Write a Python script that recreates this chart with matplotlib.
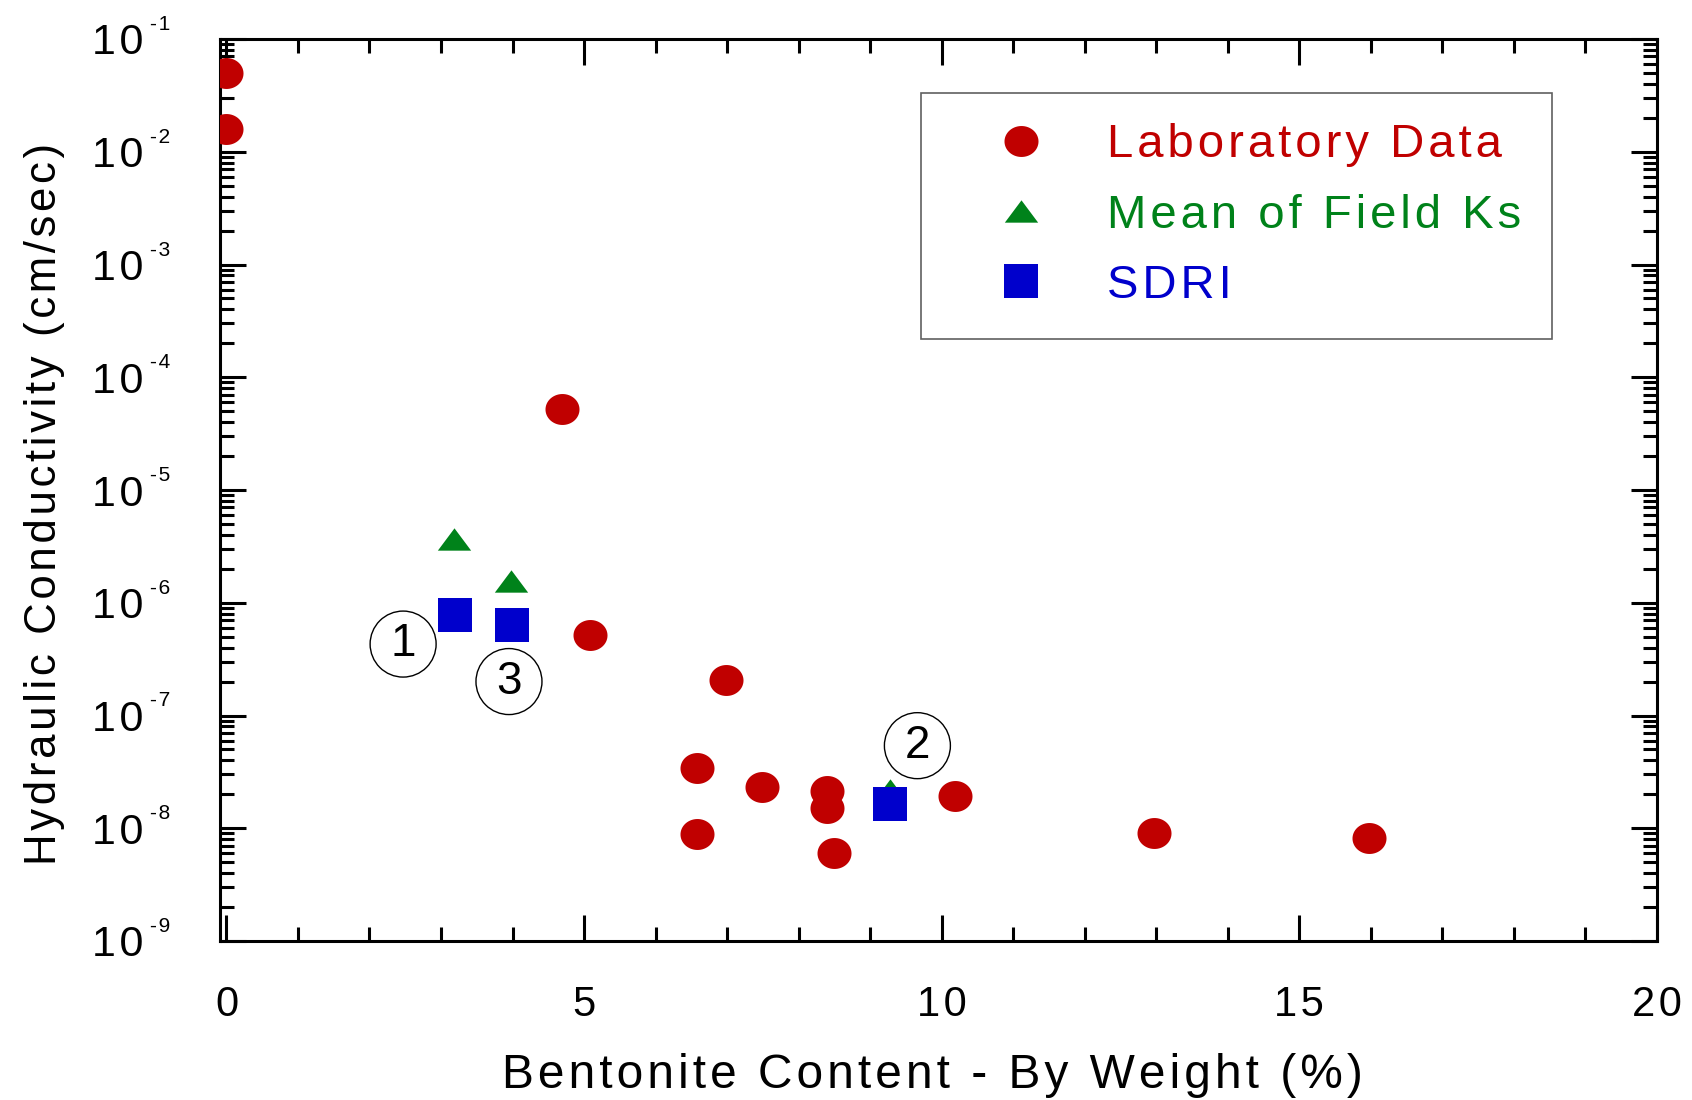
import numpy as np
import matplotlib
matplotlib.use('Agg')
import matplotlib.pyplot as plt
from matplotlib.ticker import MultipleLocator, LogLocator, NullFormatter, FixedLocator, FixedFormatter

# laboratory permeability results
lab_x = [0.0, 0.0, 4.69, 5.08, 6.98, 6.58, 6.58, 7.49, 8.40, 8.40, 8.49, 10.19, 12.97, 15.98]
lab_k = [5.0e-2, 1.58e-2, 5.2e-5, 5.2e-7, 2.07e-7, 3.44e-8, 8.9e-9, 2.34e-8,
         2.14e-8, 1.52e-8, 6.0e-9, 1.93e-8, 9.1e-9, 8.2e-9]
# field tests
field_x = [3.18, 3.98, 9.28]
field_k = [3.66e-6, 1.56e-6, 2.2e-8]
sdri_x = [3.20, 3.99, 9.28]
sdri_k = [7.8e-7, 6.3e-7, 1.63e-8]
# site numbers
site_labels = ['1', '3', '2']
site_x = [2.47, 3.95, 9.66]
site_k = [4.3e-7, 2.0e-7, 5.4e-8]

y_exponents = list(range(-9, 0))
x_major = [0, 5, 10, 15, 20]

RED = '#c00000'
GREEN = '#00821a'
BLUE = '#0000cc'
HS = '\u200a'  # hair space, the original has wide letter spacing


def spaced(s):
    return HS.join(s)


plt.rcParams['font.family'] = ['Liberation Sans', 'DejaVu Sans']

fig = plt.figure(figsize=(16.92, 11), dpi=100)
ax = fig.add_axes([220 / 1692, 1 - 941 / 1100, 1437 / 1692, 902 / 1100])

# marker shapes (the original ones are a bit squashed)
t = np.linspace(0, 2 * np.pi, 60)
ellipse = np.column_stack([np.cos(t), 0.91 * np.sin(t)])
triangle = [(-1, -0.67), (1, -0.67), (0, 0.67), (-1, -0.67)]

ax.plot(lab_x, lab_k, ls='none', marker=ellipse, ms=24.5, mfc=RED, mec=RED, mew=0,
        label=spaced('Laboratory Data'), zorder=3)
ax.plot(field_x, field_k, ls='none', marker=triangle, ms=24, mfc=GREEN, mec=GREEN, mew=0,
        label=spaced('Mean of Field Ks'), zorder=4)
ax.plot(sdri_x, sdri_k, ls='none', marker='s', ms=24.5, mfc=BLUE, mec=BLUE, mew=0,
        label=spaced('SDRI'), zorder=5)

for lab, xv, kv in zip(site_labels, site_x, site_k):
    ax.text(xv, kv, lab, fontsize=33, ha='center', va='center', zorder=6,
            bbox=dict(boxstyle='circle,pad=0.24', fc='none', ec='black', lw=1.0))

ax.set_yscale('log')
ax.set_xlim(-0.09, 20)
ax.set_ylim(1e-9, 1e-1)

ax.xaxis.set_major_locator(FixedLocator(x_major))
ax.xaxis.set_major_formatter(FixedFormatter([spaced(str(v)) for v in x_major]))
ax.xaxis.set_minor_locator(MultipleLocator(1))

y_major = [10.0 ** e for e in y_exponents]
ax.yaxis.set_major_locator(FixedLocator(y_major))
ax.yaxis.set_major_formatter(FixedFormatter([spaced('10')] * len(y_major)))
ax.yaxis.set_minor_locator(LogLocator(base=10, subs=np.arange(2, 10), numticks=100))
ax.yaxis.set_minor_formatter(NullFormatter())

ax.tick_params(which='both', direction='in', top=True, right=True, width=2.2)
ax.tick_params(which='major', length=19)
ax.tick_params(which='minor', length=10)
ax.tick_params(axis='x', which='major', labelsize=30, pad=32)
ax.tick_params(axis='y', which='major', labelsize=31, pad=55)
for sp in ax.spines.values():
    sp.set_linewidth(2.2)

# exponents of the y tick labels
for e, v in zip(y_exponents, y_major):
    ax.annotate(spaced(str(e)), xy=(0, v), xycoords=('axes fraction', 'data'),
                xytext=(-70, 9), textcoords='offset pixels',
                fontsize=15, ha='left', va='baseline')

ax.set_xlabel(spaced('Bentonite Content - By Weight (%)'), fontsize=34.5)
ax.xaxis.set_label_coords(0.496, -0.124)
ax.set_ylabel(spaced('Hydraulic Conductivity (cm/sec)'), fontsize=31.5)
ax.yaxis.set_label_coords(-0.108, 0.4845)

leg = ax.legend(loc='upper left', bbox_to_anchor=(920.8 / 1692, 1 - 92.7 / 1100),
                bbox_transform=fig.transFigure, borderaxespad=0, fancybox=False,
                framealpha=1, edgecolor='#606060', fontsize=34, numpoints=1,
                borderpad=0.65, handlelength=2.96, handletextpad=0.34, labelspacing=0.555)
leg.get_frame().set_linewidth(1.2)
for txt, col in zip(leg.get_texts(), [RED, GREEN, BLUE]):
    txt.set_color(col)

fig.savefig('out.png', dpi=100)
